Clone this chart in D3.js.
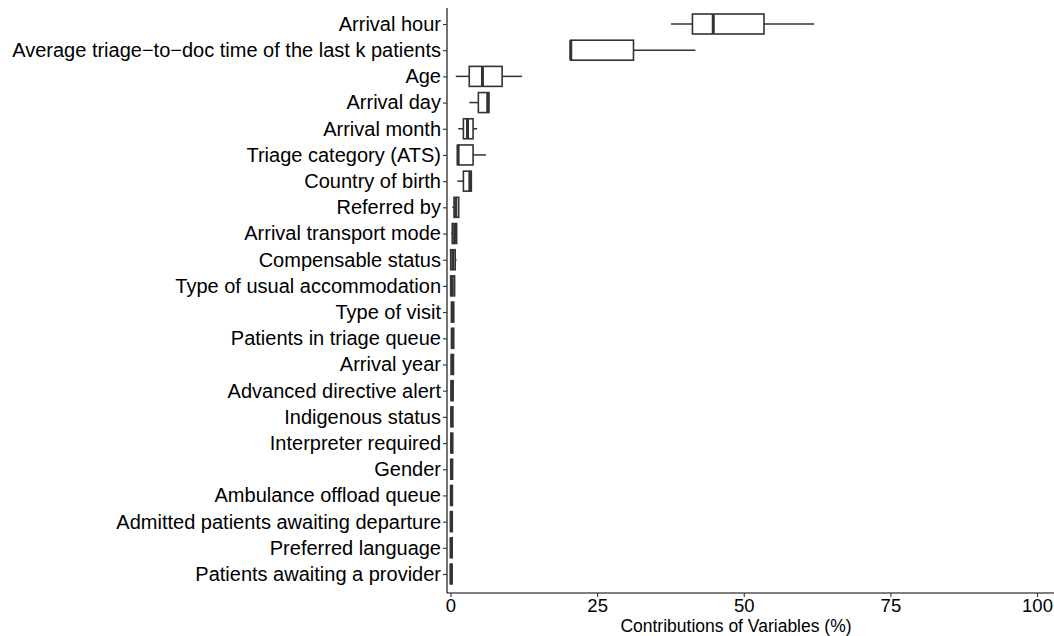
<!DOCTYPE html>
<html>
<head>
<meta charset="utf-8">
<script src="https://cdn.jsdelivr.net/npm/d3@7"></script>
<style>
  html, body { margin: 0; padding: 0; background: #fff; }
  svg { display: block; }
  text { font-family: "Liberation Sans", Arial, Helvetica, sans-serif; }
</style>
</head>
<body>
<svg id="chart" width="1054" height="636"></svg>
<script>
// ---- data ----
const categories = [
  "Arrival hour",
  "Average triage\u2212to\u2212doc time of the last k patients",
  "Age",
  "Arrival day",
  "Arrival month",
  "Triage category (ATS)",
  "Country of birth",
  "Referred by",
  "Arrival transport mode",
  "Compensable status",
  "Type of usual accommodation",
  "Type of visit",
  "Patients in triage queue",
  "Arrival year",
  "Advanced directive alert",
  "Indigenous status",
  "Interpreter required",
  "Gender",
  "Ambulance offload queue",
  "Admitted patients awaiting departure",
  "Preferred language",
  "Patients awaiting a provider"
];
const whiskerLow  = [37.6, 20.5, 0.9, 3.2, 1.3, 1.2, 1.15, 0.3, 0.1, 0.03, 0.03, 0.15, 0.2, 0.15, 0.12, 0.10, 0.08, 0.06, 0.04, 0.02, 0.01, 0.0];
const q1          = [41.25, 20.5, 3.2, 4.75, 2.2, 1.2, 2.2, 0.6, 0.3, 0.03, 0.03, 0.15, 0.2, 0.15, 0.12, 0.10, 0.08, 0.06, 0.04, 0.02, 0.01, 0.0];
const median      = [44.8, 20.5, 5.45, 6.35, 2.9, 1.3, 3.3, 0.9, 0.7, 0.4, 0.3, 0.35, 0.3, 0.25, 0.22, 0.2, 0.18, 0.16, 0.14, 0.12, 0.11, 0.1];
const q3          = [53.45, 31.2, 8.8, 6.55, 3.85, 3.85, 3.55, 1.4, 1.05, 0.8, 0.7, 0.55, 0.55, 0.5, 0.45, 0.4, 0.38, 0.35, 0.32, 0.3, 0.28, 0.26];
const whiskerHigh = [62.0, 41.75, 12.2, 6.65, 4.55, 6.05, 3.55, 1.4, 1.05, 1.05, 0.8, 0.55, 0.55, 0.5, 0.45, 0.4, 0.38, 0.35, 0.32, 0.3, 0.28, 0.26];
const xTicks = [0, 25, 50, 75, 100];
const xTitle = "Contributions of Variables (%)";

const rows = categories.map((c, i) => ({
  name: c, lo: whiskerLow[i], q1: q1[i], med: median[i], q3: q3[i], hi: whiskerHigh[i]
}));

// ---- layout ----
const svg = d3.select("#chart");
const axisX = 447, axisY = 593;
const x = d3.scaleLinear().domain([0, 100]).range([450.5, 1037]);
const y = d3.scalePoint().domain(categories).range([24, 574]);
const boxH = 20;
const ink = "#333333";

const g = svg.append("g");

// whiskers
g.selectAll("line.whisker-lo").data(rows).join("line")
  .attr("x1", d => x(d.lo)).attr("x2", d => x(d.q1))
  .attr("y1", d => y(d.name)).attr("y2", d => y(d.name))
  .attr("stroke", ink).attr("stroke-width", 1.5);
g.selectAll("line.whisker-hi").data(rows).join("line")
  .attr("x1", d => x(d.q3)).attr("x2", d => x(d.hi))
  .attr("y1", d => y(d.name)).attr("y2", d => y(d.name))
  .attr("stroke", ink).attr("stroke-width", 1.5);

// boxes
g.selectAll("rect.box").data(rows).join("rect")
  .attr("x", d => x(d.q1)).attr("width", d => Math.max(0.01, x(d.q3) - x(d.q1)))
  .attr("y", d => y(d.name) - boxH / 2).attr("height", boxH)
  .attr("fill", "#ffffff").attr("stroke", ink).attr("stroke-width", 1.6);

// medians
g.selectAll("line.median").data(rows).join("line")
  .attr("x1", d => x(d.med)).attr("x2", d => x(d.med))
  .attr("y1", d => y(d.name) - boxH / 2).attr("y2", d => y(d.name) + boxH / 2)
  .attr("stroke", ink).attr("stroke-width", 3);

// ---- axes ----
svg.append("line").attr("x1", axisX).attr("x2", axisX).attr("y1", 8).attr("y2", axisY)
  .attr("stroke", "#000").attr("stroke-width", 1.1);
svg.append("line").attr("x1", axisX).attr("x2", 1054).attr("y1", axisY).attr("y2", axisY)
  .attr("stroke", "#000").attr("stroke-width", 1.1);

const yAxis = svg.append("g").attr("transform", `translate(${axisX},0)`)
  .call(d3.axisLeft(y).tickSize(4).tickPadding(2));
yAxis.select(".domain").remove();
yAxis.selectAll(".tick line").attr("stroke", "#333").attr("stroke-width", 1.1);
yAxis.selectAll(".tick text").attr("fill", "#000").style("font-size", "20px")
  .style("font-family", "'Liberation Sans', Arial, sans-serif");

const xAxis = svg.append("g").attr("transform", `translate(0,${axisY})`)
  .call(d3.axisBottom(x).tickValues(xTicks).tickFormat(d3.format("d")).tickSize(4).tickPadding(2));
xAxis.select(".domain").remove();
xAxis.selectAll(".tick line").attr("stroke", "#333").attr("stroke-width", 1.1);
xAxis.selectAll(".tick text").attr("fill", "#000").style("font-size", "18.5px")
  .style("font-family", "'Liberation Sans', Arial, sans-serif");

svg.append("text").attr("x", 736).attr("y", 632).attr("text-anchor", "middle")
  .attr("fill", "#000").style("font-size", "17.5px").text(xTitle);
</script>
</body>
</html>
